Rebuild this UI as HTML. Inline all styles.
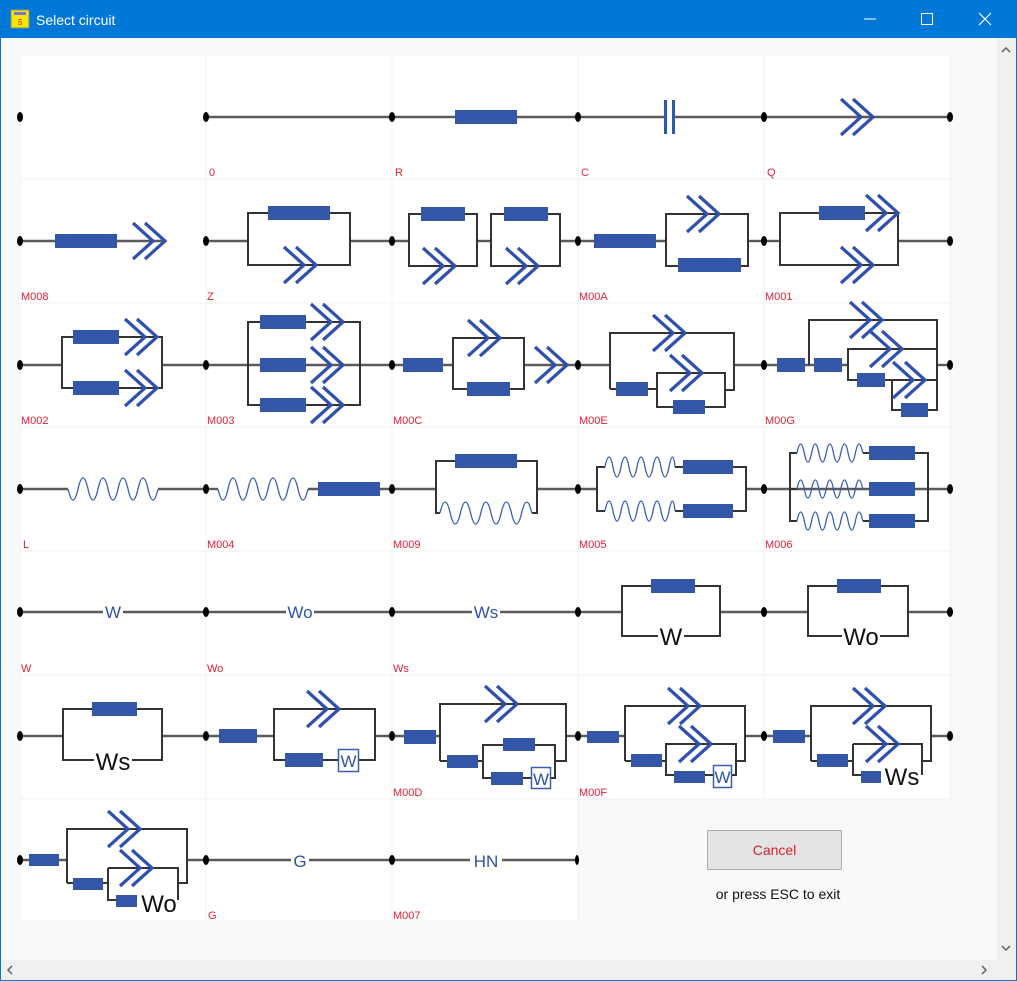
<!DOCTYPE html>
<html><head><meta charset="utf-8"><style>
body{margin:0;width:1017px;height:981px;overflow:hidden;background:#f9f9f9;font-family:"Liberation Sans",sans-serif;position:relative}
svg{position:absolute;left:0;top:0}
.w{stroke:#5a5a5a;stroke-width:2.4;fill:none}
.b{stroke:#333;stroke-width:2;fill:none}
.r{fill:#3356a8}
.s{stroke:#3a5cb5;stroke-width:1.3;fill:none}
.l{fill:#e0203a;font-size:11px}
.t{fill:#2f52a8;font-size:17px;text-anchor:middle}
.k{fill:#111;font-size:24px;text-anchor:middle}
</style></head><body>
<svg width="1017" height="981" viewBox="0 0 1017 981">
<defs>
<path id="q" d="M-32,-18 L-12,0 L-32,18 M-20,-18 L0,0 L-20,18" stroke="#3050b0" stroke-width="3.2" fill="none"/>
<ellipse id="d" rx="3" ry="5" fill="#000"/>
</defs>
<!-- window -->
<rect x="0" y="0" width="1017" height="981" fill="#0078d7"/>
<rect x="1" y="38" width="1015" height="942" fill="#f9f9f9"/>
<rect x="11" y="10" width="18" height="18" fill="#f5e800" stroke="#888"/>
<rect x="14" y="12" width="12" height="3" fill="#7777cc"/>
<text x="18" y="25" font-size="8" fill="#e02020">5</text>
<text x="36" y="25" fill="#fff" font-size="14">Select circuit</text>
<line x1="864" y1="19" x2="876" y2="19" stroke="#fff" stroke-width="1"/>
<rect x="921.5" y="13.5" width="11" height="11" fill="none" stroke="#fff"/>
<path d="M979,13 L991,25 M991,13 L979,25" stroke="#fff" stroke-width="1.2"/>
<!-- scrollbars -->
<rect x="997" y="38" width="19" height="922" fill="#f0f0f0"/>
<rect x="1" y="960" width="1015" height="20" fill="#f0f0f0"/>
<path d="M1002,52 L1006,48 L1010,52" stroke="#606060" stroke-width="1.5" fill="none"/>
<path d="M1002,946 L1006,950 L1010,946" stroke="#606060" stroke-width="1.5" fill="none"/>
<path d="M12,966 L8,970 L12,974" stroke="#606060" stroke-width="1.5" fill="none"/>
<path d="M982,966 L986,970 L982,974" stroke="#606060" stroke-width="1.5" fill="none"/>
<!-- grid -->
<g fill="#fff" stroke="#f2f2f2" stroke-width="1">
<rect x="20" y="55" width="186" height="124"/><rect x="206" y="55" width="186" height="124"/><rect x="392" y="55" width="186" height="124"/><rect x="578" y="55" width="186" height="124"/><rect x="764" y="55" width="186" height="124"/>
<rect x="20" y="179" width="186" height="124"/><rect x="206" y="179" width="186" height="124"/><rect x="392" y="179" width="186" height="124"/><rect x="578" y="179" width="186" height="124"/><rect x="764" y="179" width="186" height="124"/>
<rect x="20" y="303" width="186" height="124"/><rect x="206" y="303" width="186" height="124"/><rect x="392" y="303" width="186" height="124"/><rect x="578" y="303" width="186" height="124"/><rect x="764" y="303" width="186" height="124"/>
<rect x="20" y="427" width="186" height="124"/><rect x="206" y="427" width="186" height="124"/><rect x="392" y="427" width="186" height="124"/><rect x="578" y="427" width="186" height="124"/><rect x="764" y="427" width="186" height="124"/>
<rect x="20" y="551" width="186" height="124"/><rect x="206" y="551" width="186" height="124"/><rect x="392" y="551" width="186" height="124"/><rect x="578" y="551" width="186" height="124"/><rect x="764" y="551" width="186" height="124"/>
<rect x="20" y="675" width="186" height="124"/><rect x="206" y="675" width="186" height="124"/><rect x="392" y="675" width="186" height="124"/><rect x="578" y="675" width="186" height="124"/><rect x="764" y="675" width="186" height="124"/>
<rect x="20" y="799" width="186" height="122"/><rect x="206" y="799" width="186" height="122"/><rect x="392" y="799" width="186" height="122"/>
</g>
<!-- labels -->
<text class="l" x="209" y="176">0</text><text class="l" x="395" y="176">R</text><text class="l" x="581" y="176">C</text><text class="l" x="767" y="176">Q</text>
<text class="l" x="21" y="300">M008</text><text class="l" x="207" y="300">Z</text><text class="l" x="579" y="300">M00A</text><text class="l" x="765" y="300">M001</text>
<text class="l" x="21" y="424">M002</text><text class="l" x="207" y="424">M003</text><text class="l" x="393" y="424">M00C</text><text class="l" x="579" y="424">M00E</text><text class="l" x="765" y="424">M00G</text>
<text class="l" x="23" y="548">L</text><text class="l" x="207" y="548">M004</text><text class="l" x="393" y="548">M009</text><text class="l" x="579" y="548">M005</text><text class="l" x="765" y="548">M006</text>
<text class="l" x="21" y="672">W</text><text class="l" x="207" y="672">Wo</text><text class="l" x="393" y="672">Ws</text>
<text class="l" x="393" y="796">M00D</text><text class="l" x="579" y="796">M00F</text>
<text class="l" x="208" y="919">G</text><text class="l" x="393" y="919">M007</text>

<!-- ROW 0 y=117 -->
<line class="w" x1="206" y1="117" x2="392" y2="117"/>
<line class="w" x1="392" y1="117" x2="578" y2="117"/><rect class="r" x="455" y="110" width="62" height="14"/>
<line class="w" x1="578" y1="117" x2="665" y2="117"/><line class="w" x1="675" y1="117" x2="764" y2="117"/>
<rect class="r" x="664" y="100" width="3" height="34"/><rect class="r" x="672" y="100" width="3" height="34"/>
<line class="w" x1="764" y1="117" x2="950" y2="117"/><use href="#q" x="873" y="117"/>
<use href="#d" x="20" y="117"/><use href="#d" x="206" y="117"/><use href="#d" x="392" y="117"/><use href="#d" x="578" y="117"/><use href="#d" x="764" y="117"/><use href="#d" x="950" y="117"/>

<!-- ROW 1 y=241 -->
<line class="w" x1="20" y1="241" x2="165" y2="241"/><rect class="r" x="55" y="234" width="62" height="14"/><use href="#q" x="165" y="241"/>
<line class="w" x1="206" y1="241" x2="248" y2="241"/><line class="w" x1="350" y1="241" x2="392" y2="241"/>
<path class="b" d="M248,213 H350 V265 H248 Z"/><rect class="r" x="268" y="206" width="62" height="14"/><use href="#q" x="316" y="265"/>
<line class="w" x1="392" y1="241" x2="409" y2="241"/><line class="w" x1="477" y1="241" x2="491" y2="241"/><line class="w" x1="560" y1="241" x2="578" y2="241"/>
<path class="b" d="M409,214 H477 V266 H409 Z"/><rect class="r" x="421" y="207" width="44" height="14"/><use href="#q" x="455" y="266"/>
<path class="b" d="M491,214 H560 V266 H491 Z"/><rect class="r" x="504" y="207" width="44" height="14"/><use href="#q" x="538" y="266"/>
<line class="w" x1="578" y1="241" x2="666" y2="241"/><line class="w" x1="748" y1="241" x2="764" y2="241"/><rect class="r" x="594" y="234" width="62" height="14"/>
<path class="b" d="M666,214 H748 V266 H666 Z"/><use href="#q" x="719" y="214"/><rect class="r" x="678" y="258" width="63" height="14"/>
<line class="w" x1="764" y1="241" x2="780" y2="241"/><line class="w" x1="898" y1="241" x2="950" y2="241"/>
<path class="b" d="M780,213 H898 V265 H780 Z"/><rect class="r" x="819" y="206" width="46" height="14"/><use href="#q" x="898" y="213"/><use href="#q" x="873" y="265"/>
<use href="#d" x="20" y="241"/><use href="#d" x="206" y="241"/><use href="#d" x="392" y="241"/><use href="#d" x="578" y="241"/><use href="#d" x="764" y="241"/><use href="#d" x="950" y="241"/>

<!-- ROW 2 y=365 -->
<line class="w" x1="20" y1="365" x2="62" y2="365"/><line class="w" x1="162" y1="365" x2="206" y2="365"/>
<path class="b" d="M62,337 H162 V388 H62 Z"/><rect class="r" x="73" y="330" width="46" height="14"/><use href="#q" x="157" y="337"/><rect class="r" x="73" y="381" width="46" height="14"/><use href="#q" x="157" y="388"/>
<line class="w" x1="206" y1="365" x2="392" y2="365"/>
<path class="b" d="M248,322 H360 V405 H248 Z"/>
<rect class="r" x="260" y="315" width="46" height="14"/><rect class="r" x="260" y="358" width="46" height="14"/><rect class="r" x="260" y="398" width="46" height="14"/>
<use href="#q" x="343" y="322"/><use href="#q" x="343" y="365"/><use href="#q" x="343" y="405"/>
<line class="w" x1="392" y1="365" x2="453" y2="365"/><line class="w" x1="524" y1="365" x2="578" y2="365"/><rect class="r" x="403" y="358" width="40" height="14"/>
<path class="b" d="M453,338 H524 V389 H453 Z"/><use href="#q" x="500" y="338"/><rect class="r" x="467" y="382" width="43" height="14"/><use href="#q" x="567" y="365"/>
<line class="w" x1="578" y1="365" x2="610" y2="365"/><line class="w" x1="734" y1="365" x2="764" y2="365"/>
<path class="b" d="M610,389 V333 H734 V390 H725 M610,389 H657 M657,373 H725 V407 H657 Z"/>
<use href="#q" x="685" y="333"/><rect class="r" x="616" y="382" width="32" height="14"/><use href="#q" x="702" y="373"/><rect class="r" x="673" y="400" width="32" height="14"/>
<line class="w" x1="764" y1="365" x2="848" y2="365"/><line class="w" x1="937" y1="365" x2="950" y2="365"/>
<rect class="r" x="777" y="358" width="28" height="14"/><rect class="r" x="814" y="358" width="28" height="14"/>
<path class="b" d="M809,365 V320 H937 V410 H892 V380 H937 M848,365 V349 H937 M848,365 V380 H892"/>
<use href="#q" x="882" y="320"/><use href="#q" x="902" y="349"/><rect class="r" x="857" y="373" width="28" height="14"/><use href="#q" x="925" y="380"/><rect class="r" x="901" y="403" width="27" height="14"/>
<use href="#d" x="20" y="365"/><use href="#d" x="206" y="365"/><use href="#d" x="392" y="365"/><use href="#d" x="578" y="365"/><use href="#d" x="764" y="365"/><use href="#d" x="950" y="365"/>

<!-- ROW 3 y=489 -->
<line class="w" x1="20" y1="489" x2="68" y2="489"/><line class="w" x1="158" y1="489" x2="206" y2="489"/>
<path class="s" d="M68,489 q5,22 10,0 t10,0 t10,0 t10,0 t10,0 t10,0 t10,0 t10,0 t10,0"/>
<line class="w" x1="206" y1="489" x2="218" y2="489"/><line class="w" x1="308" y1="489" x2="392" y2="489"/>
<path class="s" d="M218,489 q5,22 10,0 t10,0 t10,0 t10,0 t10,0 t10,0 t10,0 t10,0 t10,0"/><rect class="r" x="318" y="482" width="62" height="14"/>
<line class="w" x1="392" y1="489" x2="436" y2="489"/><line class="w" x1="537" y1="489" x2="578" y2="489"/>
<path class="b" d="M440,513 H436 V461 H537 V513 H532"/><rect class="r" x="455" y="454" width="62" height="14"/>
<path class="s" d="M440,513 q5.1,-22 10.2,0 t10.2,0 t10.2,0 t10.2,0 t10.2,0 t10.2,0 t10.2,0 t10.2,0 t10.2,0"/>
<line class="w" x1="578" y1="489" x2="597" y2="489"/><line class="w" x1="746" y1="489" x2="764" y2="489"/>
<path class="b" d="M605,467 H597 V511 H605 M675,467 H746 V511 H675"/>
<path class="s" d="M605,467 q4,-20 8,0 t8,0 t8,0 t8,0 t8,0 t8,0 t8,0 t8,0 t6,0"/><rect class="r" x="683" y="460" width="50" height="14"/>
<path class="s" d="M605,511 q4,-20 8,0 t8,0 t8,0 t8,0 t8,0 t8,0 t8,0 t8,0 t6,0"/><rect class="r" x="683" y="504" width="50" height="14"/>
<line class="w" x1="764" y1="489" x2="950" y2="489"/>
<path class="b" d="M797,453 H790 V521 H797 M863,453 H928 V521 H863 M790,489 H797"/>
<path class="s" d="M797,453 q3.7,-18 7.3,0 t7.3,0 t7.3,0 t7.3,0 t7.3,0 t7.3,0 t7.3,0 t7.3,0 t7.3,0"/><rect class="r" x="869" y="446" width="46" height="14"/>
<path class="s" d="M797,489 q3.7,-18 7.3,0 t7.3,0 t7.3,0 t7.3,0 t7.3,0 t7.3,0 t7.3,0 t7.3,0 t7.3,0"/><rect class="r" x="869" y="482" width="46" height="14"/>
<path class="s" d="M797,521 q3.7,-18 7.3,0 t7.3,0 t7.3,0 t7.3,0 t7.3,0 t7.3,0 t7.3,0 t7.3,0 t7.3,0"/><rect class="r" x="869" y="514" width="46" height="14"/>
<use href="#d" x="20" y="489"/><use href="#d" x="206" y="489"/><use href="#d" x="392" y="489"/><use href="#d" x="578" y="489"/><use href="#d" x="764" y="489"/><use href="#d" x="950" y="489"/>

<!-- ROW 4 y=612 -->
<line class="w" x1="20" y1="612" x2="103" y2="612"/><line class="w" x1="123" y1="612" x2="206" y2="612"/><text class="t" x="113" y="618">W</text>
<line class="w" x1="206" y1="612" x2="286" y2="612"/><line class="w" x1="314" y1="612" x2="392" y2="612"/><text class="t" x="300" y="618">Wo</text>
<line class="w" x1="392" y1="612" x2="472" y2="612"/><line class="w" x1="500" y1="612" x2="578" y2="612"/><text class="t" x="486" y="618">Ws</text>
<line class="w" x1="578" y1="612" x2="622" y2="612"/><line class="w" x1="720" y1="612" x2="764" y2="612"/>
<path class="b" d="M658,636 H622 V586 H720 V636 H684"/><rect class="r" x="651" y="579" width="44" height="14"/><text class="k" x="671" y="645">W</text>
<line class="w" x1="764" y1="612" x2="808" y2="612"/><line class="w" x1="908" y1="612" x2="950" y2="612"/>
<path class="b" d="M842,636 H808 V586 H908 V636 H880"/><rect class="r" x="837" y="579" width="44" height="14"/><text class="k" x="861" y="645">Wo</text>
<use href="#d" x="20" y="612"/><use href="#d" x="206" y="612"/><use href="#d" x="392" y="612"/><use href="#d" x="578" y="612"/><use href="#d" x="764" y="612"/><use href="#d" x="950" y="612"/>

<!-- ROW 5 y=736 -->
<line class="w" x1="20" y1="736" x2="63" y2="736"/><line class="w" x1="162" y1="736" x2="206" y2="736"/>
<path class="b" d="M94,760 H63 V709 H162 V760 H132"/><rect class="r" x="92" y="702" width="45" height="14"/><text class="k" x="113" y="770">Ws</text>
<line class="w" x1="206" y1="736" x2="274" y2="736"/><line class="w" x1="375" y1="736" x2="392" y2="736"/><rect class="r" x="219" y="729" width="38" height="14"/>
<path class="b" d="M274,709 H375 V760 H274 Z"/><use href="#q" x="339" y="709"/><rect class="r" x="285" y="753" width="38" height="14"/>
<rect x="338.5" y="749.5" width="20" height="22" fill="#fff" stroke="#3a5cb5" stroke-width="1.5"/><text class="t" x="348.5" y="767" font-size="17">W</text>
<line class="w" x1="392" y1="736" x2="440" y2="736"/><line class="w" x1="566" y1="736" x2="578" y2="736"/><rect class="r" x="404" y="730" width="32" height="14"/>
<path class="b" d="M440,761 V704 H566 V761 H555 M440,761 H483 M483,745 H555 V778 H483 Z"/>
<use href="#q" x="517" y="704"/><rect class="r" x="447" y="755" width="31" height="13"/><rect class="r" x="503" y="738" width="32" height="13"/><rect class="r" x="491" y="772" width="32" height="13"/>
<rect x="531.5" y="767.5" width="19" height="21" fill="#fff" stroke="#3a5cb5" stroke-width="1.5"/><text class="t" x="541" y="785" font-size="17">W</text>
<line class="w" x1="578" y1="736" x2="625" y2="736"/><line class="w" x1="745" y1="736" x2="764" y2="736"/><rect class="r" x="587" y="731" width="32" height="12"/>
<path class="b" d="M625,761 V706 H745 V761 H736 M625,761 H666 M666,744 H736 V775 H666 Z"/>
<use href="#q" x="700" y="706"/><rect class="r" x="631" y="754" width="31" height="13"/><use href="#q" x="711" y="744"/><rect class="r" x="674" y="771" width="31" height="12"/>
<rect x="713.5" y="765.5" width="18" height="22" fill="#fff" stroke="#3a5cb5" stroke-width="1.5"/><text class="t" x="722.5" y="783" font-size="17">W</text>
<line class="w" x1="764" y1="736" x2="811" y2="736"/><line class="w" x1="931" y1="736" x2="950" y2="736"/><rect class="r" x="773" y="730" width="32" height="13"/>
<path class="b" d="M811,761 V706 H931 V761 H922 M811,761 H853 M853,744 H922 V775 M853,744 V775 H861"/>
<use href="#q" x="885" y="706"/><rect class="r" x="817" y="754" width="31" height="13"/><use href="#q" x="898" y="744"/><rect class="r" x="861" y="771" width="20" height="12"/>
<text class="k" x="902" y="785" font-size="22">Ws</text>
<use href="#d" x="20" y="736"/><use href="#d" x="206" y="736"/><use href="#d" x="392" y="736"/><use href="#d" x="578" y="736"/><use href="#d" x="764" y="736"/><use href="#d" x="950" y="736"/>

<!-- ROW 6 y=860 -->
<line class="w" x1="20" y1="860" x2="67" y2="860"/><line class="w" x1="187" y1="860" x2="206" y2="860"/><rect class="r" x="29" y="854" width="30" height="12"/>
<path class="b" d="M67,883 V829 H187 V883 H178 M67,883 H108 M108,868 H178 V900 M108,868 V900 H116"/>
<use href="#q" x="140" y="829"/><rect class="r" x="73" y="878" width="30" height="12"/><use href="#q" x="152" y="868"/><rect class="r" x="116" y="895" width="21" height="12"/>
<text class="k" x="159" y="912" font-size="22">Wo</text>
<line class="w" x1="206" y1="860" x2="291" y2="860"/><line class="w" x1="309" y1="860" x2="392" y2="860"/><text class="t" x="300" y="867" font-size="18">G</text>
<line class="w" x1="392" y1="860" x2="470" y2="860"/><line class="w" x1="502" y1="860" x2="577" y2="860"/><text class="t" x="486" y="867" font-size="18">HN</text>
<use href="#d" x="20" y="860"/><use href="#d" x="206" y="860"/><use href="#d" x="392" y="860"/><ellipse cx="577" cy="860" rx="2" ry="5" fill="#000"/>

<!-- cancel -->
<rect x="707.5" y="830.5" width="134" height="39" fill="#e4e4e4" stroke="#adadad"/>
<text x="774.5" y="855" fill="#d8202e" font-size="14" text-anchor="middle">Cancel</text>
<text x="778" y="899" fill="#111" font-size="14" text-anchor="middle">or press ESC to exit</text>
</svg>
</body></html>
